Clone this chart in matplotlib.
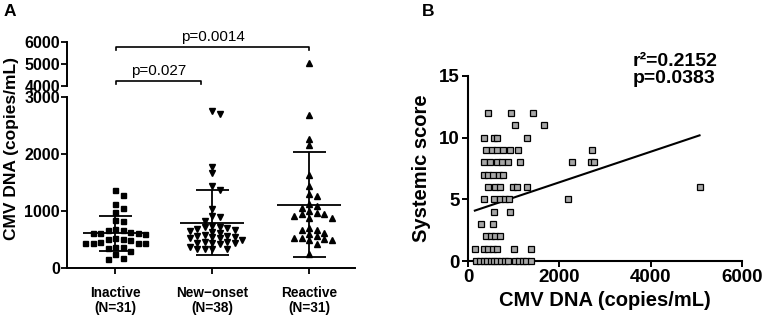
import numpy as np
import matplotlib
matplotlib.use('Agg')
import matplotlib.pyplot as plt

plt.rcParams['font.family'] = ['Liberation Sans', 'DejaVu Sans']

# ---- Panel A: CMV DNA by group ----
groups = ['Inactive\n(N=31)', 'New\u2212onset\n(N=38)', 'Reactive\n(N=31)']
inactive = [1370, 1280, 1130, 1060, 990, 850, 830, 690, 670, 660, 640, 610,
            610, 600, 610, 520, 510, 500, 510, 440, 440, 430, 440, 450, 360,
            350, 370, 300, 240, 170, 150]
new_onset = [2760, 2700, 1780, 1660, 1440, 1370, 1040, 920, 890, 830, 740,
             720, 720, 700, 680, 660, 650, 640, 620, 580, 560, 550, 540, 530,
             520, 500, 560, 450, 450, 440, 430, 430, 420, 360, 340, 340, 330, 330]
reactive = [5050, 2680, 2260, 2160, 1630, 1430, 1290, 1270, 1130, 1090, 1060,
            1000, 950, 940, 920, 960, 880, 870, 710, 660, 600, 530, 510, 490,
            670, 620, 560, 530, 500, 420, 250]
means = [608, 795, 1110]
sds = [310, 575, 925]
comparisons = [(0, 1, 'p=0.027'), (0, 2, 'p=0.0014')]

# ---- Panel B: systemic score vs CMV DNA ----
cmv = [430, 950, 1430,
       1030, 1660,
       350, 560, 630, 1290,
       390, 520, 640, 770, 920, 1100, 2710,
       340, 480, 630, 740, 880, 1140, 2270, 2690, 2760,
       340, 440, 550, 680, 770,
       440, 590, 700, 990, 1070, 1300, 5070,
       340, 580, 690, 800, 905, 2190,
       570, 920,
       280, 550,
       390, 500, 600, 690,
       150, 340, 430, 540, 640, 1010, 1380,
       180, 260, 340, 420, 500, 570, 640, 720, 800, 880, 1040, 1120, 1200, 1280, 1380]
score = [12, 12, 12,
         11, 11,
         10, 10, 10, 10,
         9, 9, 9, 9, 9, 9, 9,
         8, 8, 8, 8, 8, 8, 8, 8, 8,
         7, 7, 7, 7, 7,
         6, 6, 6, 6, 6, 6, 6,
         5, 5, 5, 5, 5, 5,
         4, 4,
         3, 3,
         2, 2, 2, 2,
         1, 1, 1, 1, 1, 1, 1,
         0, 0, 0, 0, 0, 0, 0, 0, 0, 0, 0, 0, 0, 0, 0]
fit_slope = 0.00124
fit_intercept = 3.90
stats_text = 'r\u00b2=0.2152\np=0.0383'


def swarm(vals, px_per_y, step=7.5, gap=5.5):
    # greedy column scatter, offsets in pixels
    vals = np.asarray(vals, float)
    placed = []
    offs = np.zeros(len(vals))
    cands = [0.0]
    for j in range(1, 15):
        cands += [j * step, -j * step]
    for i in np.argsort(vals)[::-1]:
        y = vals[i] * px_per_y
        for c in cands:
            if all(abs(c - xo) >= step - 0.1 or abs(y - yo) >= gap for xo, yo in placed):
                break
        placed.append((c, y))
        offs[i] = c
    return offs


W, H = 765, 319
fig = plt.figure(figsize=(W / 100, H / 100), dpi=100)

px_x = 97.0          # pixels per category
px_y = 57.2 / 1000   # pixels per copy (lower part)
axA = fig.add_axes([67 / W, 1 - 268 / H, 288 / W, 171 / H])
axT = fig.add_axes([67 / W, 1 - 86 / H, 288 / W, 44.3 / H], sharex=axA)

markers = ['s', 'v', '^']
sizes = [3.6, 3.8, 3.8]
for k, vals in enumerate([inactive, new_onset, reactive]):
    xs = k + swarm(vals, px_y) / px_x
    for ax in (axA, axT):
        ax.plot(xs, vals, linestyle='none', marker=markers[k], ms=sizes[k],
                color='black', mec='black')
        m, s = means[k], sds[k]
        ax.hlines(m, k - 0.33, k + 0.33, color='black', lw=1.3)
        ax.hlines([m - s, m + s], k - 0.17, k + 0.17, color='black', lw=1.3)
        ax.vlines(k, m - s, m + s, color='black', lw=1.3)

axA.set_xlim(-0.495, 2.474)
axA.set_ylim(0, 3000)
axT.set_ylim(4000, 6000)
axA.set_yticks([0, 1000, 2000, 3000])
axT.set_yticks([4000, 5000, 6000])
axA.set_xticks([0, 1, 2])
axA.set_xticklabels(groups, fontsize=9.8, fontweight='bold', linespacing=1.1)
for ax in (axA, axT):
    for sp in ['top', 'right']:
        ax.spines[sp].set_visible(False)
    ax.spines['left'].set_linewidth(1.4)
    ax.tick_params(axis='y', direction='out', length=4, width=1.3, labelsize=11.5, pad=1)
    for t in ax.get_yticklabels():
        t.set_fontweight('bold')
axA.spines['bottom'].set_linewidth(1.4)
axA.tick_params(axis='x', direction='out', length=4, width=1.3, pad=9)
axT.spines['bottom'].set_visible(False)
axT.tick_params(axis='x', bottom=False, labelbottom=False)
axT.patch.set_alpha(0)

# significance brackets in the upper part
bracket_y = [4240, 5770]
for (a, b, label), yb in zip(comparisons, bracket_y):
    xa, xb = a + 0.01, b - 0.11 if b == 1 else b
    axT.plot([xa, xa, xb, xb], [yb - 140, yb, yb, yb - 140], color='black',
             lw=1.2, clip_on=False)
    axT.text((xa + xb) / 2, yb + 120, label, ha='center', va='bottom',
             fontsize=11, clip_on=False)

fig.text(12 / W, 1 - 148 / H, 'CMV DNA (copies/mL)', rotation=90, ha='center',
         va='center', fontsize=12.5, fontweight='bold')
fig.text(4 / W, 1 - 12 / H, 'A', fontsize=12.5, fontweight='bold', va='center')

# ---- Panel B ----
axB = fig.add_axes([468 / W, 1 - 261 / H, 274 / W, 185 / H])
axB.plot(cmv, score, linestyle='none', marker='s', ms=4.0, mfc='#a6a6a6',
         mec='black', mew=0.9, clip_on=False, zorder=3)
xf = np.array([min(cmv), max(cmv)])
axB.plot(xf, fit_intercept + fit_slope * xf, color='black', lw=1.5, zorder=2)
axB.set_xlim(0, 6000)
axB.set_ylim(0, 15)
axB.set_xticks([0, 2000, 4000, 6000])
axB.set_yticks([0, 5, 10, 15])
for sp in ['top', 'right']:
    axB.spines[sp].set_visible(False)
for sp in ['left', 'bottom']:
    axB.spines[sp].set_linewidth(1.5)
axB.tick_params(direction='out', length=4, width=1.4, labelsize=13.5, pad=2)
for t in axB.get_xticklabels() + axB.get_yticklabels():
    t.set_fontweight('bold')
axB.set_xlabel('CMV DNA (copies/mL)', fontsize=14.5, fontweight='bold', labelpad=3)
axB.set_ylabel('Systemic score', fontsize=14.5, fontweight='bold', labelpad=6)
axB.text(3600, 15.5, stats_text, ha='left', va='center', fontsize=14,
         fontweight='bold', linespacing=1.0, clip_on=False)
fig.text(422 / W, 1 - 12 / H, 'B', fontsize=12.5, fontweight='bold', va='center')

fig.savefig('out.png', dpi=100)
